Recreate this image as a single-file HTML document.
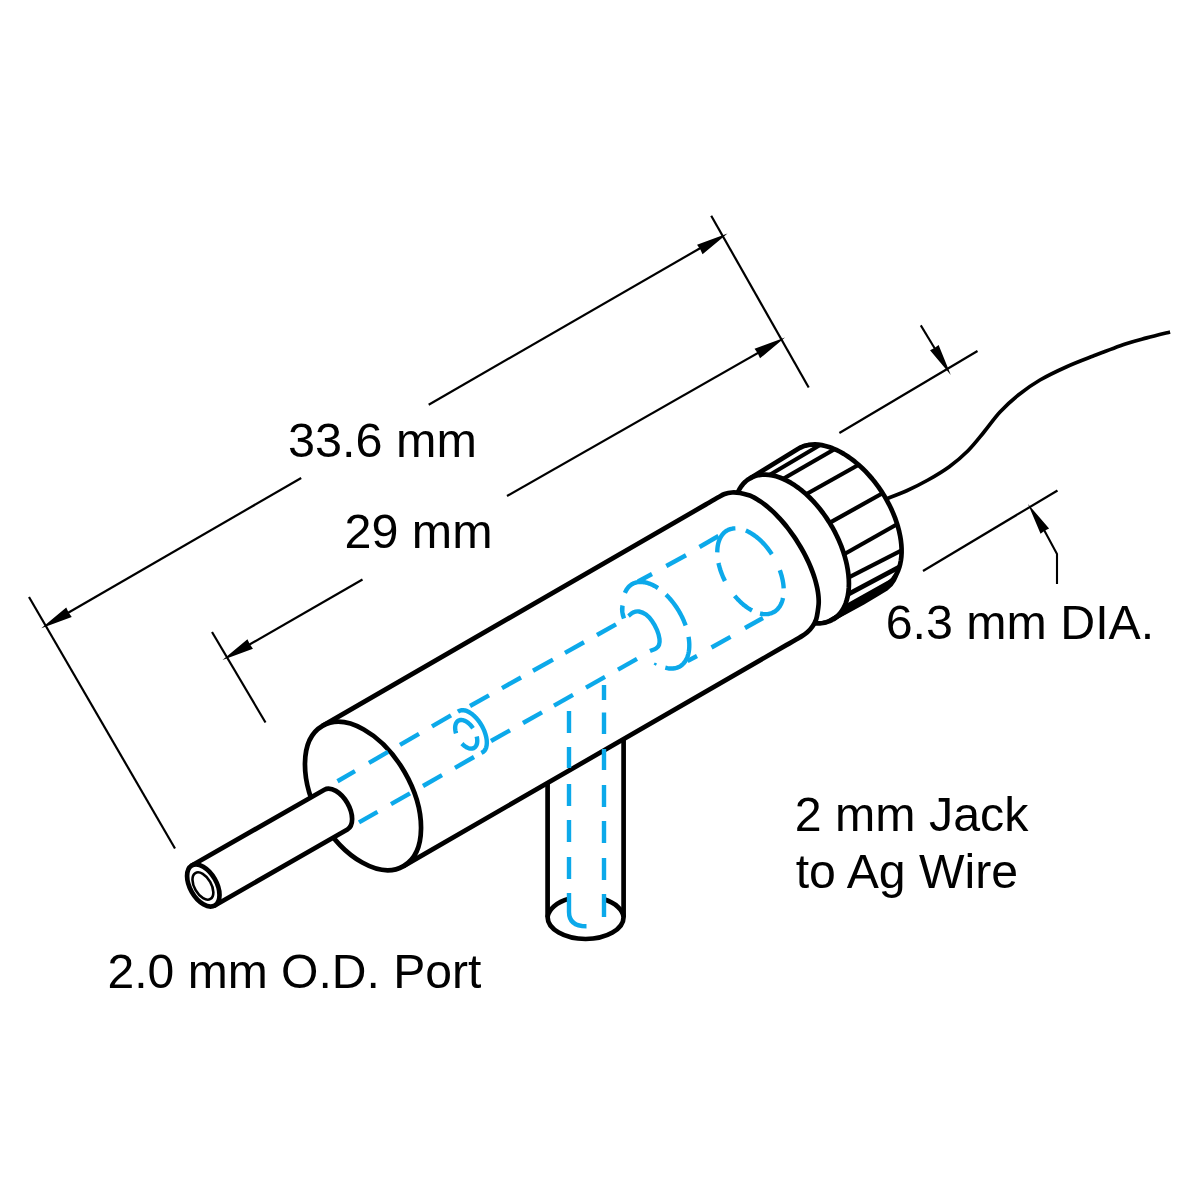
<!DOCTYPE html>
<html><head><meta charset="utf-8"><title>Diagram</title>
<style>html,body{margin:0;padding:0;background:#fff;width:1200px;height:1200px;overflow:hidden}body{font-family:"Liberation Sans",sans-serif}</style></head>
<body>
<svg width="1200" height="1200" viewBox="0 0 1200 1200" style="position:absolute;left:0;top:0;font-family:'Liberation Sans',sans-serif" fill="#000">
<line x1="29.00" y1="597.00" x2="175.00" y2="848.50" stroke="#000" stroke-width="2.2" />
<line x1="212.00" y1="632.00" x2="265.50" y2="722.50" stroke="#000" stroke-width="2.2" />
<line x1="711.20" y1="215.70" x2="808.70" y2="387.50" stroke="#000" stroke-width="2.2" />
<line x1="60.00" y1="617.50" x2="301.20" y2="478.00" stroke="#000" stroke-width="2.2" />
<line x1="428.70" y1="404.70" x2="710.00" y2="242.50" stroke="#000" stroke-width="2.2" />
<polygon points="41.30,628.20 66.26,607.44 68.58,612.45 71.76,616.96" fill="#000"/>
<polygon points="727.50,233.60 702.54,254.36 700.22,249.35 697.04,244.84" fill="#000"/>
<line x1="240.00" y1="650.00" x2="362.50" y2="579.50" stroke="#000" stroke-width="2.2" />
<line x1="507.00" y1="496.00" x2="770.00" y2="346.00" stroke="#000" stroke-width="2.2" />
<polygon points="222.50,660.00 247.46,639.24 249.78,644.25 252.96,648.76" fill="#000"/>
<polygon points="785.00,337.50 760.04,358.26 757.72,353.25 754.54,348.74" fill="#000"/>
<line x1="839.40" y1="433.00" x2="977.50" y2="351.00" stroke="#000" stroke-width="2.2" />
<line x1="923.00" y1="571.00" x2="1057.50" y2="490.50" stroke="#000" stroke-width="2.2" />
<line x1="920.80" y1="325.40" x2="936.00" y2="350.50" stroke="#000" stroke-width="2.1" />
<polygon points="950.80,375.00 930.03,350.15 934.58,348.00 938.60,345.00" fill="#000"/>
<path d="M1043,528 L1057,554 L1057,584" fill="none" stroke="#000" stroke-width="2.1" stroke-linecap="butt" stroke-linejoin="round" />
<polygon points="1028.00,504.00 1049.07,528.60 1044.55,530.80 1040.56,533.85" fill="#000"/>
<path d="M886.70,498.70 C890.03,497.37 899.82,493.82 906.70,490.70 C913.58,487.58 920.90,484.00 928.00,480.00 C935.10,476.00 942.63,471.58 949.30,466.70 C955.97,461.82 962.22,456.48 968.00,450.70 C973.78,444.92 978.67,438.45 984.00,432.00 C989.33,425.55 994.22,418.22 1000.00,412.00 C1005.78,405.78 1012.03,400.03 1018.70,394.70 C1025.37,389.37 1032.00,384.67 1040.00,380.00 C1048.00,375.33 1057.82,370.70 1066.70,366.70 C1075.58,362.70 1083.53,359.78 1093.30,356.00 C1103.07,352.22 1116.40,347.02 1125.30,344.00 C1134.20,340.98 1139.23,339.90 1146.70,337.90 C1154.17,335.90 1166.20,332.98 1170.10,332.00" fill="none" stroke="#000" stroke-width="3.7" stroke-linecap="butt" stroke-linejoin="round" />
<path d="M547.6,783 L547.6,917 A38,22 0 0 0 623.6,917 L623.6,739.5" fill="none" stroke="#000" stroke-width="4.7" stroke-linecap="butt" stroke-linejoin="round" />
<path d="M547.6,917 A38,22 0 0 1 569,898.8" fill="none" stroke="#000" stroke-width="4.7" stroke-linecap="butt" stroke-linejoin="round" />
<path d="M604,899.3 A38,22 0 0 1 623.6,917" fill="none" stroke="#000" stroke-width="4.7" stroke-linecap="butt" stroke-linejoin="round" />
<path d="M322.50,725.85 L706.00,504.40 C708.05,503.22 715.20,499.03 718.30,497.30 C721.40,495.57 722.32,494.80 724.60,494.00 C726.88,493.20 729.43,492.67 732.00,492.50 C734.57,492.33 737.03,492.49 740.00,493.00 C742.97,493.51 747.57,494.85 749.79,495.54 C752.02,496.24 752.14,496.56 753.33,497.17 C754.53,497.78 755.75,498.46 756.98,499.19 C758.21,499.93 759.46,500.73 760.72,501.59 C761.97,502.45 763.24,503.37 764.51,504.35 C765.78,505.32 767.07,506.36 768.35,507.45 C769.63,508.54 770.92,509.68 772.20,510.88 C773.48,512.07 774.76,513.32 776.03,514.61 C777.31,515.90 778.58,517.24 779.84,518.61 C781.10,519.99 782.35,521.42 783.58,522.88 C784.81,524.33 786.04,525.83 787.24,527.36 C788.44,528.89 789.63,530.46 790.79,532.05 C791.96,533.64 793.10,535.26 794.22,536.90 C795.33,538.54 796.43,540.21 797.49,541.89 C798.55,543.57 799.59,545.27 800.59,546.98 C801.59,548.69 802.57,550.42 803.50,552.15 C804.43,553.88 805.34,555.62 806.20,557.35 C807.06,559.09 807.89,560.83 808.67,562.56 C809.45,564.30 810.20,566.03 810.90,567.75 C811.60,569.47 812.26,571.18 812.87,572.87 C813.48,574.56 814.05,576.25 814.57,577.90 C815.09,579.56 815.56,581.20 815.99,582.81 C816.41,584.42 816.79,586.01 817.11,587.56 C817.44,589.11 817.72,590.64 817.95,592.12 C818.17,593.61 818.35,595.06 818.47,596.47 C818.60,597.88 818.67,599.25 818.70,600.57 C818.72,601.90 818.76,602.67 818.61,604.41 C818.46,606.15 818.20,608.52 817.80,611.00 C817.40,613.48 817.03,616.80 816.20,619.30 C815.37,621.80 814.28,623.83 812.80,626.00 C811.32,628.17 809.43,630.42 807.30,632.30 C805.17,634.18 803.43,635.20 800.00,637.30 C796.57,639.40 788.92,643.63 786.70,644.90 L403.50,866.15" fill="#fff" stroke="#000" stroke-width="4.7" stroke-linecap="butt" stroke-linejoin="round" />
<ellipse cx="363.00" cy="796.00" rx="81" ry="48" transform="rotate(60 363.00 796.00)" fill="#fff" stroke="#000" stroke-width="4.7"/>
<path d="M191.80,865.58 L324.40,789.68 A23.0,13.2 60 0 1 347.40,829.52 L214.80,905.42 Z" fill="#fff" stroke="#000" stroke-width="4.7" stroke-linecap="butt" stroke-linejoin="round" />
<ellipse cx="203.30" cy="885.50" rx="23.0" ry="13.2" transform="rotate(60 203.30 885.50)" fill="#fff" stroke="#000" stroke-width="4.7"/>
<ellipse cx="202.90" cy="886.00" rx="15" ry="8.4" transform="rotate(60 202.90 886.00)" fill="none" stroke="#000" stroke-width="2.6"/>
<path d="M749.80,478.39 L797.42,449.23 L799.97,447.74 L802.68,446.52 L805.55,445.59 L808.56,444.93 L811.71,444.56 L814.97,444.47 L818.34,444.67 L821.81,445.16 L825.36,445.93 L828.97,446.97 L832.64,448.30 L836.34,449.90 L840.07,451.76 L843.80,453.88 L847.53,456.24 L851.24,458.85 L854.91,461.69 L858.53,464.74 L862.09,468.00 L865.56,471.46 L868.95,475.09 L872.23,478.89 L875.39,482.84 L878.42,486.93 L881.30,491.13 L884.04,495.43 L886.60,499.82 L888.99,504.28 L891.20,508.79 L893.21,513.33 L895.03,517.89 L896.63,522.44 L898.02,526.97 L899.18,531.46 L900.13,535.89 L900.84,540.25 L901.32,544.51 L901.57,548.67 L901.59,552.70 L901.36,556.60 L900.91,560.33 L900.22,563.90 L899.31,567.28 L898.17,570.46 L896.81,573.43 L895.23,576.17 L893.44,578.69 L891.45,580.96 L889.27,582.97 L886.90,584.73 L832.82,619.55 L832.82,619.55 L835.24,617.93 L837.50,616.05 L839.57,613.90 L841.45,611.49 L843.13,608.84 L844.61,605.95 L845.87,602.83 L846.93,599.50 L847.76,595.97 L848.37,592.26 L848.75,588.38 L848.91,584.34 L848.84,580.16 L848.55,575.86 L848.02,571.45 L847.28,566.95 L846.31,562.39 L845.13,557.77 L843.73,553.11 L842.13,548.44 L840.32,543.77 L838.32,539.12 L836.14,534.51 L833.78,529.96 L831.25,525.48 L828.57,521.09 L825.74,516.82 L822.77,512.67 L819.68,508.66 L816.47,504.82 L813.17,501.15 L809.78,497.66 L806.32,494.38 L802.80,491.32 L799.23,488.48 L795.63,485.88 L792.01,483.53 L788.40,481.44 L784.79,479.61 L781.21,478.06 L777.67,476.79 L774.18,475.80 L770.76,475.11 L767.42,474.70 L764.18,474.59 L761.04,474.77 L758.02,475.24 L755.14,476.00 L752.39,477.06 L749.80,478.39 Z" fill="#fff" stroke="none" stroke-width="0" stroke-linecap="butt" stroke-linejoin="round" />
<clipPath id="capclip"><path d="M749.80,478.39 L797.42,449.23 L799.97,447.74 L802.68,446.52 L805.55,445.59 L808.56,444.93 L811.71,444.56 L814.97,444.47 L818.34,444.67 L821.81,445.16 L825.36,445.93 L828.97,446.97 L832.64,448.30 L836.34,449.90 L840.07,451.76 L843.80,453.88 L847.53,456.24 L851.24,458.85 L854.91,461.69 L858.53,464.74 L862.09,468.00 L865.56,471.46 L868.95,475.09 L872.23,478.89 L875.39,482.84 L878.42,486.93 L881.30,491.13 L884.04,495.43 L886.60,499.82 L888.99,504.28 L891.20,508.79 L893.21,513.33 L895.03,517.89 L896.63,522.44 L898.02,526.97 L899.18,531.46 L900.13,535.89 L900.84,540.25 L901.32,544.51 L901.57,548.67 L901.59,552.70 L901.36,556.60 L900.91,560.33 L900.22,563.90 L899.31,567.28 L898.17,570.46 L896.81,573.43 L895.23,576.17 L893.44,578.69 L891.45,580.96 L889.27,582.97 L886.90,584.73 L832.82,619.55 L832.82,619.55 L835.24,617.93 L837.50,616.05 L839.57,613.90 L841.45,611.49 L843.13,608.84 L844.61,605.95 L845.87,602.83 L846.93,599.50 L847.76,595.97 L848.37,592.26 L848.75,588.38 L848.91,584.34 L848.84,580.16 L848.55,575.86 L848.02,571.45 L847.28,566.95 L846.31,562.39 L845.13,557.77 L843.73,553.11 L842.13,548.44 L840.32,543.77 L838.32,539.12 L836.14,534.51 L833.78,529.96 L831.25,525.48 L828.57,521.09 L825.74,516.82 L822.77,512.67 L819.68,508.66 L816.47,504.82 L813.17,501.15 L809.78,497.66 L806.32,494.38 L802.80,491.32 L799.23,488.48 L795.63,485.88 L792.01,483.53 L788.40,481.44 L784.79,479.61 L781.21,478.06 L777.67,476.79 L774.18,475.80 L770.76,475.11 L767.42,474.70 L764.18,474.59 L761.04,474.77 L758.02,475.24 L755.14,476.00 L752.39,477.06 L749.80,478.39 Z"/></clipPath>
<g clip-path="url(#capclip)">
<line x1="765.72" y1="477.23" x2="822.58" y2="443.47" stroke="#000" stroke-width="4.0" />
<line x1="782.00" y1="479.50" x2="840.10" y2="446.00" stroke="#000" stroke-width="4.2" />
<line x1="806.58" y1="493.97" x2="860.92" y2="463.53" stroke="#000" stroke-width="4.2" />
<line x1="829.08" y1="523.17" x2="883.42" y2="492.73" stroke="#000" stroke-width="4.2" />
<line x1="843.19" y1="554.78" x2="898.41" y2="523.52" stroke="#000" stroke-width="4.2" />
<line x1="846.93" y1="578.37" x2="902.67" y2="549.83" stroke="#000" stroke-width="4.2" />
<line x1="846.55" y1="595.11" x2="900.95" y2="566.19" stroke="#000" stroke-width="4.8" />
</g>
<polygon points="846.5,603.7 893.8,577.3 899.5,570 898.2,576 896,581 892.5,586 887.5,590.5 878,596.3 864.2,604.5 845.9,614.6 836.7,619.2 827.5,622.9 818,624.3 818,621.5 826,620.3 836,614.5 842,609" fill="#000"/>
<path d="M749.80,478.39 L797.42,449.23 L799.97,447.74 L802.68,446.52 L805.55,445.59 L808.56,444.93 L811.71,444.56 L814.97,444.47 L818.34,444.67 L821.81,445.16 L825.36,445.93 L828.97,446.97 L832.64,448.30 L836.34,449.90 L840.07,451.76 L843.80,453.88 L847.53,456.24 L851.24,458.85 L854.91,461.69 L858.53,464.74 L862.09,468.00 L865.56,471.46 L868.95,475.09 L872.23,478.89 L875.39,482.84 L878.42,486.93 L881.30,491.13 L884.04,495.43 L886.60,499.82 L888.99,504.28 L891.20,508.79 L893.21,513.33 L895.03,517.89 L896.63,522.44 L898.02,526.97 L899.18,531.46 L900.13,535.89 L900.84,540.25 L901.32,544.51 L901.57,548.67 L901.59,552.70 L901.36,556.60 L900.91,560.33 L900.22,563.90 L899.31,567.28 L898.17,570.46 L896.81,573.43 L895.23,576.17 L893.44,578.69 L891.45,580.96 L889.27,582.97 L886.90,584.73 L832.82,619.55" fill="none" stroke="#000" stroke-width="4.7" stroke-linecap="butt" stroke-linejoin="round" />
<path d="M737.86,492.33 L739.39,489.28 L741.14,486.50 L743.11,483.98 L745.28,481.74 L747.66,479.80 L750.22,478.15 L752.96,476.81 L755.87,475.78 L758.93,475.06 L762.13,474.67 L765.46,474.60 L768.89,474.84 L772.43,475.41 L776.04,476.30 L779.73,477.50 L783.46,479.01 L787.22,480.82 L791.01,482.92 L794.79,485.31 L798.56,487.98 L802.30,490.91 L805.99,494.09 L809.62,497.51 L813.17,501.15 L816.62,504.99 L819.97,509.03 L823.19,513.24 L826.27,517.60 L829.20,522.10 L831.97,526.71 L834.57,531.42 L836.97,536.21 L839.18,541.05 L841.18,545.93 L842.97,550.82 L844.53,555.70 L845.86,560.55 L846.96,565.35 L847.82,570.09 L848.43,574.73 L848.80,579.25 L848.92,583.65 L848.78,587.90 L848.41,591.98 L847.78,595.87 L846.91,599.57 L845.80,603.04 L844.45,606.28 L842.88,609.27 L841.08,612.00 L839.07,614.46 L836.85,616.64 L834.43,618.52 L831.83,620.10 L829.05,621.38 L826.11,622.34 L823.02,622.99 L819.79,623.31 L816.44,623.32 L812.98,623.00" fill="none" stroke="#000" stroke-width="4.7" stroke-linecap="butt" stroke-linejoin="round" />
<line x1="569.00" y1="711.00" x2="569.00" y2="733.00" stroke="#0ca9ea" stroke-width="4.4" />
<line x1="569.00" y1="747.00" x2="569.00" y2="768.00" stroke="#0ca9ea" stroke-width="4.4" />
<line x1="569.00" y1="784.00" x2="569.00" y2="806.00" stroke="#0ca9ea" stroke-width="4.4" />
<line x1="569.00" y1="820.00" x2="569.00" y2="842.00" stroke="#0ca9ea" stroke-width="4.4" />
<line x1="569.00" y1="857.00" x2="569.00" y2="879.00" stroke="#0ca9ea" stroke-width="4.4" />
<path d="M569,893 L569,912 Q569,926.3 586.5,926.3" fill="none" stroke="#0ca9ea" stroke-width="4.4" stroke-linecap="butt" stroke-linejoin="round" />
<line x1="604.00" y1="685.00" x2="604.00" y2="700.00" stroke="#0ca9ea" stroke-width="4.4" />
<line x1="604.00" y1="712.50" x2="604.00" y2="734.00" stroke="#0ca9ea" stroke-width="4.4" />
<line x1="604.00" y1="749.00" x2="604.00" y2="770.00" stroke="#0ca9ea" stroke-width="4.4" />
<line x1="604.00" y1="785.00" x2="604.00" y2="807.00" stroke="#0ca9ea" stroke-width="4.4" />
<line x1="604.00" y1="821.00" x2="604.00" y2="843.00" stroke="#0ca9ea" stroke-width="4.4" />
<line x1="604.00" y1="858.00" x2="604.00" y2="880.00" stroke="#0ca9ea" stroke-width="4.4" />
<line x1="604.00" y1="894.00" x2="604.00" y2="917.00" stroke="#0ca9ea" stroke-width="4.4" />
<line x1="337.50" y1="781.25" x2="355.00" y2="771.09" stroke="#0ca9ea" stroke-width="4.4" />
<line x1="369.00" y1="762.97" x2="388.00" y2="751.94" stroke="#0ca9ea" stroke-width="4.4" />
<line x1="400.00" y1="744.97" x2="419.00" y2="733.95" stroke="#0ca9ea" stroke-width="4.4" />
<line x1="432.00" y1="726.40" x2="451.00" y2="715.37" stroke="#0ca9ea" stroke-width="4.4" />
<line x1="470.00" y1="706.00" x2="489.00" y2="695.38" stroke="#0ca9ea" stroke-width="4.4" />
<line x1="502.00" y1="688.11" x2="521.00" y2="677.49" stroke="#0ca9ea" stroke-width="4.4" />
<line x1="533.00" y1="670.78" x2="553.00" y2="659.60" stroke="#0ca9ea" stroke-width="4.4" />
<line x1="565.00" y1="652.89" x2="584.00" y2="642.27" stroke="#0ca9ea" stroke-width="4.4" />
<line x1="597.00" y1="635.00" x2="616.00" y2="624.38" stroke="#0ca9ea" stroke-width="4.4" />
<line x1="359.00" y1="822.36" x2="377.50" y2="811.85" stroke="#0ca9ea" stroke-width="4.4" />
<line x1="391.00" y1="804.18" x2="410.00" y2="793.39" stroke="#0ca9ea" stroke-width="4.4" />
<line x1="423.00" y1="786.00" x2="442.00" y2="775.21" stroke="#0ca9ea" stroke-width="4.4" />
<line x1="455.00" y1="767.82" x2="474.00" y2="757.03" stroke="#0ca9ea" stroke-width="4.4" />
<line x1="491.00" y1="741.00" x2="510.00" y2="730.31" stroke="#0ca9ea" stroke-width="4.4" />
<line x1="523.00" y1="723.00" x2="542.00" y2="712.31" stroke="#0ca9ea" stroke-width="4.4" />
<line x1="554.00" y1="705.56" x2="573.00" y2="694.88" stroke="#0ca9ea" stroke-width="4.4" />
<line x1="586.00" y1="687.56" x2="605.00" y2="676.88" stroke="#0ca9ea" stroke-width="4.4" />
<line x1="618.00" y1="669.56" x2="637.00" y2="658.88" stroke="#0ca9ea" stroke-width="4.4" />
<path d="M481.39,752.86 L482.97,752.08 L484.30,750.92 L485.37,749.38 L486.17,747.51 L486.66,745.33 L486.84,742.88 L486.72,740.22 L486.28,737.40 L485.55,734.47 L484.53,731.48 L483.24,728.50 L481.72,725.58 L479.97,722.78 L478.06,720.15 L476.00,717.74 L473.83,715.60 L471.61,713.77 L469.37,712.29 L467.15,711.18 L465.01,710.46 L462.97,710.16 L461.08,710.27 L459.38,710.79 L457.89,711.72" fill="none" stroke="#0ca9ea" stroke-width="4.4" stroke-linecap="butt" stroke-linejoin="round" />
<path d="M472.98,728.18 L471.98,726.79 L470.91,725.50 L469.79,724.32 L468.62,723.25 L467.42,722.32 L466.21,721.53 L465.00,720.90 L463.80,720.43 L462.63,720.12 L461.50,719.98 L460.43,720.02 L459.43,720.23 L458.52,720.61 L457.69,721.16 L456.97,721.86 L456.35,722.71 L455.86,723.70 L455.49,724.82 L455.25,726.06 L455.14,727.39 L455.17,728.80 L455.33,730.29 L455.62,731.82 L456.03,733.38" fill="none" stroke="#0ca9ea" stroke-width="4.4" stroke-linecap="butt" stroke-linejoin="round" />
<path d="M461.91,743.57 L462.90,744.56 L463.92,745.47 L464.96,746.27 L466.01,746.96 L467.07,747.54 L468.11,748.00 L469.14,748.34 L470.14,748.54 L471.11,748.62 L472.03,748.57 L472.90,748.39 L473.70,748.08 L474.44,747.65 L475.11,747.09 L475.69,746.42 L476.19,745.64 L476.59,744.76 L476.91,743.78 L477.12,742.71 L477.24,741.57 L477.26,740.37 L477.17,739.11 L476.99,737.80 L476.71,736.46" fill="none" stroke="#0ca9ea" stroke-width="4.4" stroke-linecap="butt" stroke-linejoin="round" />
<path d="M622.5,605.5 Q621.3,612 624,618.5" fill="none" stroke="#0ca9ea" stroke-width="4.4" stroke-linecap="butt" stroke-linejoin="round" />
<path d="M628.50,616.00 C629.25,615.42 631.25,613.25 633.00,612.50 C634.75,611.75 636.83,611.17 639.00,611.50 C641.17,611.83 643.83,612.92 646.00,614.50 C648.17,616.08 650.17,618.42 652.00,621.00 C653.83,623.58 655.75,627.00 657.00,630.00 C658.25,633.00 659.17,636.50 659.50,639.00 C659.83,641.50 659.58,643.42 659.00,645.00 C658.42,646.58 657.50,647.50 656.00,648.50 C654.50,649.50 651.00,650.58 650.00,651.00" fill="none" stroke="#0ca9ea" stroke-width="4.4" stroke-linecap="butt" stroke-linejoin="round" />
<path d="M657.98,588.08 L656.23,586.95 L654.47,585.93 L652.72,585.02 L650.97,584.23 L649.24,583.54 L647.53,582.98 L645.84,582.53 L644.19,582.20 L642.56,581.99 L640.97,581.91 L639.43,581.94 L637.93,582.10 L636.48,582.37 L635.09,582.77 L633.75,583.28 L632.48,583.91 L631.27,584.66 L630.13,585.52 L629.07,586.49 L628.08,587.57 L627.17,588.75 L626.33,590.04 L625.59,591.42 L624.92,592.90" fill="none" stroke="#0ca9ea" stroke-width="4.4" stroke-linecap="butt" stroke-linejoin="round" />
<line x1="638.00" y1="581.50" x2="652.00" y2="574.00" stroke="#0ca9ea" stroke-width="4.4" />
<path d="M685.62,625.51 L685.10,624.09 L684.55,622.67 L683.97,621.24 L683.36,619.83 L682.72,618.42 L682.06,617.02 L681.36,615.62 L680.64,614.24 L679.89,612.87 L679.11,611.51 L678.31,610.17 L677.49,608.84 L676.64,607.53 L675.77,606.24 L674.88,604.97 L673.97,603.72 L673.04,602.50 L672.09,601.30 L671.12,600.12 L670.14,598.98 L669.14,597.86 L668.13,596.77 L667.11,595.71 L666.07,594.68" fill="none" stroke="#0ca9ea" stroke-width="4.4" stroke-linecap="butt" stroke-linejoin="round" />
<path d="M665.31,667.71 L667.29,668.17 L669.22,668.45 L671.10,668.57 L672.92,668.52 L674.68,668.30 L676.36,667.92 L677.97,667.36 L679.49,666.64 L680.91,665.76 L682.24,664.73 L683.47,663.53 L684.59,662.19 L685.60,660.71 L686.50,659.09 L687.28,657.33 L687.93,655.45 L688.46,653.45 L688.86,651.34 L689.14,649.13 L689.28,646.83 L689.30,644.44 L689.19,641.98 L688.95,639.45 L688.58,636.86" fill="none" stroke="#0ca9ea" stroke-width="4.4" stroke-linecap="butt" stroke-linejoin="round" />
<line x1="687.50" y1="661.00" x2="697.00" y2="656.00" stroke="#0ca9ea" stroke-width="4.4" />
<line x1="666.30" y1="566.00" x2="686.00" y2="555.30" stroke="#0ca9ea" stroke-width="4.4" />
<line x1="699.50" y1="547.00" x2="718.50" y2="536.00" stroke="#0ca9ea" stroke-width="4.4" />
<line x1="711.50" y1="647.50" x2="730.50" y2="636.80" stroke="#0ca9ea" stroke-width="4.4" />
<line x1="654.70" y1="665.20" x2="655.90" y2="663.00" stroke="#0ca9ea" stroke-width="2.6" />
<line x1="745.00" y1="628.00" x2="763.00" y2="618.00" stroke="#0ca9ea" stroke-width="4.4" />
<path d="M735.40,528.35 L734.05,528.41 L732.74,528.56 L731.46,528.81 L730.23,529.14 L729.03,529.56 L727.89,530.07 L726.79,530.67 L725.74,531.36 L724.74,532.13 L723.80,532.98 L722.92,533.92 L722.10,534.93 L721.33,536.03 L720.63,537.19 L719.99,538.44 L719.42,539.75 L718.91,541.12 L718.47,542.57 L718.10,544.07 L717.80,545.63 L717.56,547.25 L717.40,548.91 L717.31,550.63 L717.29,552.39" fill="none" stroke="#0ca9ea" stroke-width="4.4" stroke-linecap="butt" stroke-linejoin="round" />
<path d="M771.83,554.20 L770.93,552.84 L770.00,551.50 L769.05,550.18 L768.08,548.89 L767.09,547.63 L766.07,546.39 L765.04,545.19 L763.99,544.01 L762.92,542.87 L761.84,541.77 L760.74,540.70 L759.63,539.67 L758.51,538.67 L757.38,537.72 L756.25,536.80 L755.10,535.93 L753.95,535.10 L752.80,534.32 L751.64,533.58 L750.48,532.89 L749.32,532.24 L748.16,531.64 L747.01,531.09 L745.86,530.59" fill="none" stroke="#0ca9ea" stroke-width="4.4" stroke-linecap="butt" stroke-linejoin="round" />
<path d="M783.67,588.42 L783.63,587.70 L783.58,586.98 L783.52,586.25 L783.45,585.51 L783.37,584.78 L783.28,584.03 L783.17,583.29 L783.06,582.54 L782.94,581.78 L782.80,581.02 L782.66,580.26 L782.50,579.50 L782.33,578.73 L782.15,577.96 L781.97,577.19 L781.77,576.42 L781.56,575.64 L781.34,574.87 L781.11,574.09 L780.87,573.31 L780.62,572.53 L780.36,571.75 L780.09,570.97 L779.81,570.19" fill="none" stroke="#0ca9ea" stroke-width="4.4" stroke-linecap="butt" stroke-linejoin="round" />
<path d="M760.01,613.50 L761.42,613.79 L762.81,613.99 L764.17,614.11 L765.51,614.15 L766.82,614.10 L768.09,613.96 L769.33,613.74 L770.54,613.43 L771.70,613.04 L772.82,612.57 L773.89,612.01 L774.92,611.38 L775.90,610.66 L776.83,609.86 L777.71,608.99 L778.53,608.04 L779.30,607.02 L780.01,605.93 L780.66,604.77 L781.25,603.54 L781.78,602.25 L782.25,600.89 L782.65,599.48 L782.99,598.01" fill="none" stroke="#0ca9ea" stroke-width="4.4" stroke-linecap="butt" stroke-linejoin="round" />
<path d="M734.67,595.80 L735.34,596.59 L736.01,597.37 L736.69,598.13 L737.37,598.88 L738.07,599.62 L738.77,600.34 L739.47,601.04 L740.18,601.73 L740.90,602.41 L741.62,603.07 L742.35,603.71 L743.08,604.33 L743.81,604.94 L744.55,605.54 L745.29,606.11 L746.03,606.67 L746.78,607.20 L747.53,607.72 L748.27,608.23 L749.02,608.71 L749.78,609.17 L750.53,609.62 L751.28,610.04 L752.03,610.44" fill="none" stroke="#0ca9ea" stroke-width="4.4" stroke-linecap="butt" stroke-linejoin="round" />
<path d="M718.50,563.00 L718.66,563.74 L718.83,564.49 L719.02,565.23 L719.21,565.98 L719.41,566.73 L719.62,567.48 L719.84,568.24 L720.07,568.99 L720.31,569.74 L720.55,570.50 L720.81,571.25 L721.08,572.01 L721.35,572.76 L721.64,573.52 L721.93,574.27 L722.23,575.02 L722.54,575.77 L722.86,576.52 L723.19,577.27 L723.53,578.02 L723.88,578.76 L724.23,579.51 L724.59,580.25 L724.96,580.98" fill="none" stroke="#0ca9ea" stroke-width="4.4" stroke-linecap="butt" stroke-linejoin="round" />
<g opacity="0.999">
<text transform="translate(288,457) scale(1.022,1)" font-size="47.5">33.6 mm</text>
<text transform="translate(344.5,547.5) scale(1.02,1)" font-size="47.5">29 mm</text>
<text transform="translate(885.7,639) scale(1.018,1)" font-size="47.5">6.3 mm DIA.</text>
<text transform="translate(794.8,831) scale(1.018,1)" font-size="47.5">2 mm Jack</text>
<text transform="translate(795.7,887.5) scale(1.015,1)" font-size="47.5">to Ag Wire</text>
<text transform="translate(107.5,987.5) scale(1.012,1)" font-size="47.5">2.0 mm O.D. Port</text>
</g>
</svg>
</body></html>
